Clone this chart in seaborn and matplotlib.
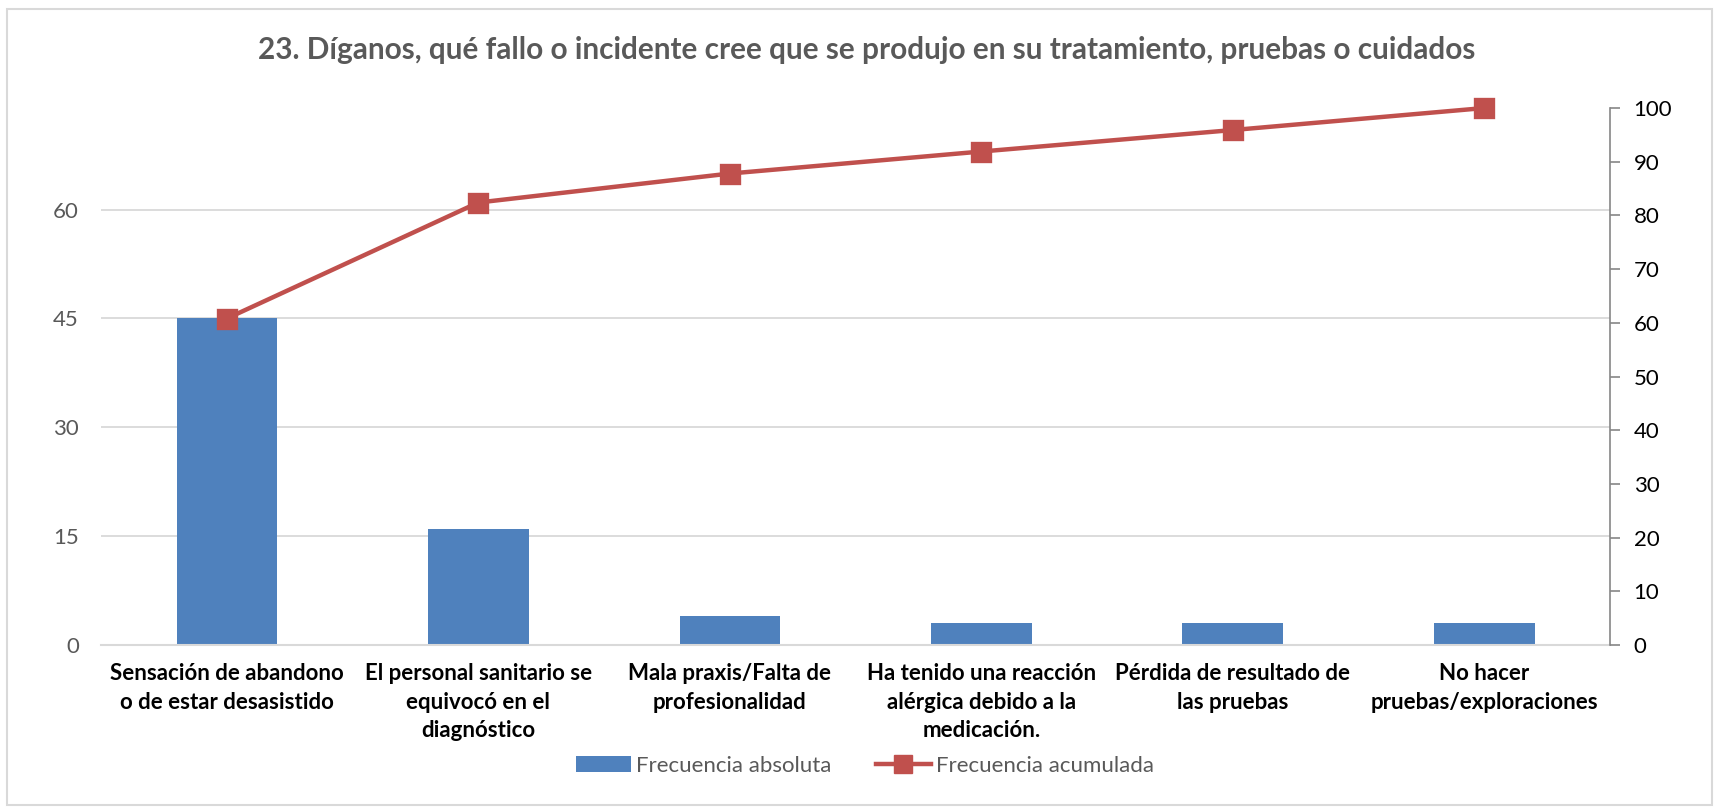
import matplotlib
matplotlib.use("Agg")
import matplotlib.pyplot as plt
import seaborn as sns
from matplotlib.patches import Patch, Rectangle
from matplotlib.lines import Line2D

categorias = [
    "Sensación de abandono\no de estar desasistido",
    "El personal sanitario se\nequivocó en el\ndiagnóstico",
    "Mala praxis/Falta de\nprofesionalidad",
    "Ha tenido una reacción\nalérgica debido a la\nmedicación.",
    "Pérdida de resultado de\nlas pruebas",
    "No hacer\npruebas/exploraciones",
]
frecuencia_absoluta = [45, 16, 4, 3, 3, 3]
frecuencia_acumulada = [60.8, 82.4, 87.8, 91.9, 95.9, 100]
ticks_izq = [0, 15, 30, 45, 60]
ticks_der = [0, 10, 20, 30, 40, 50, 60, 70, 80, 90, 100]
titulo = "23. Díganos, qué fallo o incidente cree que se produjo en su tratamiento, pruebas o cuidados"

plt.rcParams["font.family"] = ["Lato", "DejaVu Sans"]

fig = plt.figure(figsize=(17.19, 8.11), dpi=100)
ax = fig.add_axes([0.0588, 0.2047, 0.8778, 0.6621])

sns.barplot(x=categorias, y=frecuencia_absoluta, color="#4F81BD", saturation=1,
            width=0.4, errorbar=None, ax=ax, zorder=2)

ax2 = ax.twinx()
sns.pointplot(x=categorias, y=frecuencia_acumulada, color="#C0504D", markers="s",
              errorbar=None, ax=ax2, markersize=13, linewidth=3.2)
for ln in ax2.lines:
    ln.set_clip_on(False)

ax.set_ylim(0, 74)
ax.set_yticks(ticks_izq)
ax.grid(axis="y", color="#D9D9D9", lw=1.3, zorder=0)
ax.set_axisbelow(True)
ax.tick_params(axis="y", length=0, pad=16, labelsize=16, labelcolor="#595959")
ax.set_xlim(-0.5, len(categorias) - 0.5)
ax.set_xticks(range(len(categorias)))
ax.set_xticklabels(categorias, fontsize=16, fontweight="bold", color="black",
                   linespacing=1.45)
ax.tick_params(axis="x", length=0, pad=13)
for s in ["top", "left", "right"]:
    ax.spines[s].set_visible(False)
ax.spines["bottom"].set_color("#D9D9D9")
ax.spines["bottom"].set_linewidth(1.5)
ax.set_xlabel("")
ax.set_ylabel("")

ax2.set_ylim(0, 100)
ax2.set_yticks(ticks_der)
ax2.tick_params(axis="y", length=7, width=1.2, color="#868686", pad=10,
                labelsize=16, labelcolor="black")
for s in ["top", "left", "bottom"]:
    ax2.spines[s].set_visible(False)
ax2.spines["right"].set_color("#868686")
ax2.spines["right"].set_linewidth(1.2)
ax2.set_ylabel("")
ax2.set_xlabel("")

fig.text(0.504, 0.938, titulo, ha="center", va="center", fontsize=21.4,
         fontweight="bold", color="#595959")

handles = [
    Patch(facecolor="#4F81BD", edgecolor="none"),
    Line2D([], [], color="#C0504D", lw=3.2, marker="s", markersize=13),
]
fig.legend(handles, ["Frecuencia absoluta", "Frecuencia acumulada"],
           loc="center", bbox_to_anchor=(0.503, 0.0555), ncol=2, frameon=False,
           fontsize=16, labelcolor="#595959", handlelength=2.5,
           handletextpad=0.2, columnspacing=2.0)

fig.patches.append(Rectangle((7 / 1719, 1 - 805 / 811), 1705 / 1719, 796 / 811,
                             transform=fig.transFigure, fill=False,
                             ec="#D9D9D9", lw=1.5))

fig.savefig("out.png", dpi=100)
